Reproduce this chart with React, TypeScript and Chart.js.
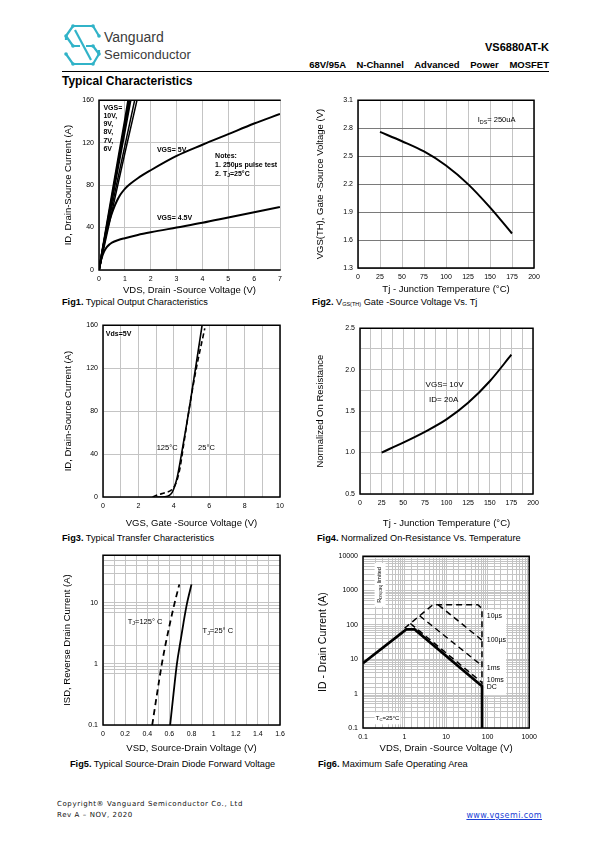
import React, { useEffect, useRef } from "react";
import { Chart, registerables } from "chart.js";
Chart.register(...registerables);

const FONT = '"Liberation Sans", Arial, Helvetica, sans-serif';
const NARROW = '"Liberation Sans Narrow", "Liberation Sans", Arial, sans-serif';
const GRID = "#c4c4c4";

// ---------------- Fig1: output characteristics ----------------
const fig1XTicks = [0, 1, 2, 3, 4, 5, 6, 7];
const fig1YTicks = [0, 40, 80, 120, 160];
const fig1Vds10 = [0, 0.5, 1.0, 1.13];
const fig1Id10 = [0, 71, 141, 160];
const fig1Vds9 = [0, 0.5, 1.0, 1.17];
const fig1Id9 = [0, 68, 137, 160];
const fig1Vds8 = [0, 0.5, 1.0, 1.22];
const fig1Id8 = [0, 66, 131, 160];
const fig1Vds7 = [0, 0.5, 1.0, 1.38];
const fig1Id7 = [0, 60, 117, 160];
const fig1Vds6 = [0, 0.5, 1.0, 1.47];
const fig1Id6 = [0, 55, 110, 160];
const fig1Vds5 = [0, 0.1, 0.2, 0.3, 0.4, 0.5, 0.6, 0.7, 0.8, 0.9, 1.0, 1.2, 1.5, 2, 3, 4, 5, 6, 7];
const fig1Id5 = [0, 13, 26, 37, 46, 53.5, 60, 65.5, 70, 73.5, 76.5, 81, 86.5, 94, 107.5, 118, 128, 138, 147];
const fig1Vds45 = [0, 0.05, 0.1, 0.2, 0.3, 0.4, 0.5, 0.75, 1, 1.5, 2, 3, 4, 5, 6, 7];
const fig1Id45 = [0, 6, 11, 17.5, 21.5, 24, 25.8, 28.3, 30, 33, 35.5, 40, 44.5, 49.5, 54.5, 59.5];

// ---------------- Fig2: VGS(th) vs Tj ----------------
const fig2XTicks = [0, 25, 50, 75, 100, 125, 150, 175, 200];
const fig2YTicks = [1.3, 1.6, 1.9, 2.2, 2.5, 2.8, 3.1];
const fig2Tj = [25, 50, 75, 100, 125, 150, 175];
const fig2Vth = [2.76, 2.66, 2.55, 2.4, 2.2, 1.95, 1.67];

// ---------------- Fig3: transfer characteristics ----------------
const fig3XTicks = [0, 1, 2, 3, 4, 5, 6, 7, 8, 9, 10];
const fig3YTicks = [0, 40, 80, 120, 160];
const fig3Vgs25 = [3.0, 3.5, 3.75, 3.9, 4.05, 4.2, 4.35, 4.55, 4.85, 5.2, 5.6];
const fig3Id25 = [0, 0.3, 1.5, 4, 10, 19, 32, 51, 80, 117, 160];
const fig3Vgs125 = [2.8, 3.1, 3.5, 3.9, 4.15, 4.35, 4.55, 4.85, 5.25, 5.75];
const fig3Id125 = [0, 2, 4, 7, 14, 27, 48, 80, 118, 157];

// ---------------- Fig4: normalized Rds(on) ----------------
const fig4XTicks = [0, 12.5, 25, 37.5, 50, 62.5, 75, 87.5, 100, 112.5, 125, 137.5, 150, 162.5, 175, 187.5, 200];
const fig4YTicks = [0.5, 0.75, 1.0, 1.25, 1.5, 1.75, 2.0, 2.25, 2.5];
const fig4Tj = [25, 50, 75, 100, 125, 150, 175];
const fig4Rn = [1.0, 1.12, 1.25, 1.4, 1.6, 1.86, 2.18];

// ---------------- Fig5: diode forward ----------------
const fig5XTicks = [0, 0.1, 0.2, 0.3, 0.4, 0.5, 0.6, 0.7, 0.8, 0.9, 1.0, 1.1, 1.2, 1.3, 1.4, 1.5, 1.6];
const fig5YTicks = [0.1, 0.7, 0.8, 0.9, 1, 2, 7, 8, 9, 10, 20, 30, 40, 50, 60];
const fig5Vsd25 = [0.607, 0.637, 0.668, 0.698, 0.728, 0.758, 0.8];
const fig5Isd25 = [0.1, 0.32, 1, 2.2, 4.75, 9.5, 20];
const fig5Vsd125 = [0.445, 0.488, 0.532, 0.57, 0.607, 0.645, 0.69];
const fig5Isd125 = [0.1, 0.32, 1, 2.3, 4.75, 9.5, 20];

// ---------------- Fig6: SOA ----------------
const fig6DcV = [0.1, 1.1, 1.75, 73, 73];
const fig6DcI = [7.7, 74, 74, 1.65, 0.1];
const fig6Us10V = [1.0, 4.8, 58, 73, 73];
const fig6Us10I = [80, 385, 385, 300, 1.8];
const fig6Us100V = [6.5, 73];
const fig6Us100I = [385, 36];
const fig6Ms1V = [2.3, 73];
const fig6Ms1I = [185, 6.5];
const fig6Ms10V = [1.38, 73];
const fig6Ms10I = [110, 2.1];

// ---------------- helpers ----------------
const pts = (xs: number[], ys: number[]) => xs.map((x, i) => ({ x, y: ys[i] }));
const line = (xs: number[], ys: number[], o: any = {}) => ({
  data: pts(xs, ys),
  borderColor: "#000",
  borderWidth: 2,
  pointRadius: 0,
  fill: false,
  cubicInterpolationMode: "monotone",
  ...o,
});

const isDecade = (v: number) => {
  const l = Math.log10(v);
  return Math.abs(l - Math.round(l)) < 1e-6;
};

function axis(o: any) {
  return {
    type: o.type || "linear",
    min: o.min,
    max: o.max,
    afterBuildTicks: o.ticks
      ? (s: any) => {
          s.ticks = o.ticks.map((v: number) => ({ value: v }));
        }
      : undefined,
    afterFit: (s: any) => {
      if (o.horizontal) s.height = o.size;
      else s.width = o.size;
    },
    border: { display: false },
    grid: { color: o.gridColor || GRID, lineWidth: 1, drawTicks: false },
    ticks: {
      padding: 5,
      color: "#000",
      font: { family: FONT, size: 7 },
      autoSkip: false,
      maxRotation: 0,
      minRotation: 0,
      callback: (v: any) => (o.label ? o.label(Number(v)) : String(v)),
    },
    title: {
      display: true,
      text: o.title,
      color: "#000",
      font: { family: FONT, size: o.titleSize || 9.5 },
      padding: 0,
    },
  };
}

function framePlugin(sides = "ltrb", color = "#000", lw = 1.5) {
  return {
    id: "frame",
    afterDatasetsDraw(chart: any) {
      const { ctx, chartArea: a } = chart;
      ctx.save();
      ctx.strokeStyle = color;
      ctx.lineWidth = lw;
      ctx.lineCap = "square";
      ctx.beginPath();
      if (sides.includes("l")) { ctx.moveTo(a.left, a.top); ctx.lineTo(a.left, a.bottom); }
      if (sides.includes("r")) { ctx.moveTo(a.right, a.top); ctx.lineTo(a.right, a.bottom); }
      if (sides.includes("t")) { ctx.moveTo(a.left, a.top); ctx.lineTo(a.right, a.top); }
      if (sides.includes("b")) { ctx.moveTo(a.left, a.bottom); ctx.lineTo(a.right, a.bottom); }
      ctx.stroke();
      ctx.restore();
    },
  };
}

function drawRich(ctx: CanvasRenderingContext2D, text: string, x: number, y: number, size: number, weight: string, family: string, align: string) {
  const parts = text.split("~");
  const fN = `${weight} ${size}px ${family}`;
  const fS = `${weight} ${size * 0.72}px ${family}`;
  let total = 0;
  parts.forEach((p, i) => {
    ctx.font = i % 2 ? fS : fN;
    total += ctx.measureText(p).width;
  });
  let cx = align === "center" ? x - total / 2 : align === "right" ? x - total : x;
  ctx.textAlign = "left";
  ctx.textBaseline = "middle";
  parts.forEach((p, i) => {
    ctx.font = i % 2 ? fS : fN;
    ctx.fillText(p, cx, y + (i % 2 ? size * 0.28 : 0));
    cx += ctx.measureText(p).width;
  });
}

function notesPlugin(notes: any[], boxes: any[] = []) {
  return {
    id: "notes",
    beforeDatasetsDraw(chart: any) {
      const { ctx, scales } = chart;
      ctx.save();
      ctx.fillStyle = "#fff";
      boxes.forEach((b) => {
        const x1 = scales.x.getPixelForValue(b.x1);
        const x2 = scales.x.getPixelForValue(b.x2);
        const y1 = scales.y.getPixelForValue(b.y1);
        const y2 = scales.y.getPixelForValue(b.y2);
        ctx.fillRect(Math.min(x1, x2), Math.min(y1, y2), Math.abs(x2 - x1), Math.abs(y2 - y1));
      });
      ctx.restore();
    },
    afterDatasetsDraw(chart: any) {
      const { ctx, scales } = chart;
      ctx.save();
      ctx.fillStyle = "#000";
      notes.forEach((n) => {
        const px = scales.x.getPixelForValue(n.x);
        const py = scales.y.getPixelForValue(n.y);
        const lines = n.t.split("\n");
        const size = n.size || 7;
        const weight = n.bold ? "bold" : "normal";
        const fam = n.family || NARROW;
        const lh = n.lh || size * 1.2;
        if (n.rot) {
          ctx.save();
          ctx.translate(px, py);
          ctx.rotate(-Math.PI / 2);
          drawRich(ctx, n.t, 0, 0, size, weight, fam, "center");
          ctx.restore();
        } else {
          lines.forEach((l: string, i: number) => drawRich(ctx, l, px, py + i * lh, size, weight, fam, n.align || "left"));
        }
      });
      ctx.restore();
    },
  };
}

function makeConfig(g: any, datasets: any[], xs: any, ys: any, plugins: any[]) {
  return {
    type: "line",
    data: { datasets },
    options: {
      animation: false,
      responsive: false,
      devicePixelRatio: 1,
      events: [],
      layout: { padding: { top: 8, right: 12, left: 0, bottom: 0 } },
      plugins: { legend: { display: false }, tooltip: { enabled: false } },
      scales: {
        x: axis({ ...xs, horizontal: true, size: g.xH }),
        y: axis({ ...ys, horizontal: false, size: g.yW }),
      },
    },
    plugins,
  };
}

function ChartBox({ g, build }: { g: any; build: () => any }) {
  const ref = useRef<HTMLCanvasElement>(null);
  useEffect(() => {
    const chart = new Chart(ref.current as HTMLCanvasElement, build() as any);
    return () => chart.destroy();
  }, []);
  return (
    <canvas
      ref={ref}
      width={g.w}
      height={g.h}
      style={{ position: "absolute", left: g.left, top: g.top, width: g.w, height: g.h }}
    />
  );
}

const G1 = { left: 63, top: 91, w: 229, h: 205, yW: 36, xH: 26 };
const G2 = { left: 315, top: 91, w: 231, h: 204, yW: 43, xH: 27 };
const G3 = { left: 63, top: 316, w: 229, h: 213, yW: 40, xH: 32 };
const G4 = { left: 315, top: 319, w: 230, h: 210, yW: 45, xH: 35 };
const G5 = { left: 62, top: 546, w: 230, h: 208, yW: 41, xH: 29 };
const G6 = { left: 317, top: 547, w: 225, h: 207, yW: 46, xH: 26 };

const straight = { cubicInterpolationMode: "default", tension: 0 };

const build1 = () =>
  makeConfig(
    G1,
    [
      line(fig1Vds10, fig1Id10, { cubicInterpolationMode: "default", tension: 0.2 }),
      line(fig1Vds9, fig1Id9, { cubicInterpolationMode: "default", tension: 0.2 }),
      line(fig1Vds8, fig1Id8, { cubicInterpolationMode: "default", tension: 0.2 }),
      line(fig1Vds7, fig1Id7, { borderWidth: 1.5 }),
      line(fig1Vds6, fig1Id6, { borderWidth: 1.5 }),
      line(fig1Vds5, fig1Id5),
      line(fig1Vds45, fig1Id45),
    ],
    { min: 0, max: 7, ticks: fig1XTicks, title: "VDS, Drain -Source Voltage (V)" },
    { min: 0, max: 160, ticks: fig1YTicks, title: "ID, Drain-Source Current (A)" },
    [
      framePlugin("ltb"),
      notesPlugin([
        { t: "VGS=\n10V,\n9V,\n8V,\n7V,\n6V", x: 0.17, y: 153, bold: true, lh: 8.3 },
        { t: "VGS= 5V", x: 2.24, y: 112.7, bold: true },
        { t: "VGS= 4.5V", x: 2.24, y: 49, bold: true },
        { t: "Notes:\n1. 250µs pulse test\n2. T~J~=25°C", x: 4.49, y: 107.6, bold: true, lh: 9 },
      ]),
    ]
  );

const build2 = () =>
  makeConfig(
    G2,
    [line(fig2Tj, fig2Vth)],
    { min: 0, max: 200, ticks: fig2XTicks, title: "Tj - Junction Temperature (°C)" },
    {
      min: 1.3,
      max: 3.1,
      ticks: fig2YTicks,
      label: (v: number) => v.toFixed(1),
      title: "VGS(TH), Gate -Source Voltage (V)",
      gridColor: "#7a7a7a",
    },
    [framePlugin("ltrb"), notesPlugin([{ t: "I~DS~= 250uA", x: 136, y: 2.887, size: 7.5 }])]
  );

const build3 = () =>
  makeConfig(
    G3,
    [
      line(fig3Vgs25, fig3Id25, { borderWidth: 1.6 }),
      line(fig3Vgs125, fig3Id125, { borderWidth: 1.6, borderDash: [5, 3] }),
    ],
    {
      min: 0,
      max: 10,
      ticks: fig3XTicks,
      label: (v: number) => (v % 2 === 0 ? String(v) : ""),
      title: "VGS, Gate -Source Voltage (V)",
    },
    { min: 0, max: 160, ticks: fig3YTicks, title: "ID, Drain-Source Current (A)" },
    [
      framePlugin("ltrb"),
      notesPlugin([
        { t: "Vds=5V", x: 0.16, y: 151.6, bold: true },
        { t: "125°C", x: 3.03, y: 46, size: 7.5 },
        { t: "25°C", x: 5.37, y: 46, size: 7.5 },
      ]),
    ]
  );

const build4 = () =>
  makeConfig(
    G4,
    [line(fig4Tj, fig4Rn)],
    {
      min: 0,
      max: 200,
      ticks: fig4XTicks,
      label: (v: number) => (v % 25 === 0 ? String(v) : ""),
      title: "Tj - Junction Temperature (°C)",
    },
    {
      min: 0.5,
      max: 2.5,
      ticks: fig4YTicks,
      label: (v: number) => (Math.abs(v * 2 - Math.round(v * 2)) < 1e-6 ? v.toFixed(1) : ""),
      title: "Normalized On Resistance",
    },
    [
      framePlugin("ltrb"),
      notesPlugin([
        { t: "VGS= 10V", x: 75.8, y: 1.823, size: 8 },
        { t: "ID= 20A", x: 79.9, y: 1.636, size: 8 },
      ]),
    ]
  );

const build5 = () =>
  makeConfig(
    G5,
    [
      line(fig5Vsd25, fig5Isd25, { borderWidth: 1.8 }),
      line(fig5Vsd125, fig5Isd125, { borderWidth: 1.8, borderDash: [6, 4] }),
    ],
    {
      min: 0,
      max: 1.6,
      ticks: fig5XTicks,
      label: (v: number) => {
        const k = Math.round(v * 10);
        return k % 2 === 0 ? String(k / 10) : "";
      },
      title: "VSD, Source-Drain Voltage (V)",
    },
    {
      type: "logarithmic",
      min: 0.1,
      max: 60,
      ticks: fig5YTicks,
      label: (v: number) => (isDecade(v) ? String(v) : ""),
      title: "ISD, Reverse Drain Current (A)",
    },
    [
      framePlugin("ltrb"),
      notesPlugin([
        { t: "T~J~=125° C", x: 0.224, y: 4.87, size: 7.5 },
        { t: "T~J~=25° C", x: 0.9, y: 3.41, size: 7.5 },
      ]),
    ]
  );

const build6 = () =>
  makeConfig(
    G6,
    [
      line(fig6DcV, fig6DcI, { borderWidth: 2.6, ...straight }),
      line(fig6Us10V, fig6Us10I, { borderWidth: 1.5, borderDash: [6, 4], ...straight }),
      line(fig6Us100V, fig6Us100I, { borderWidth: 1.5, borderDash: [6, 4], ...straight }),
      line(fig6Ms1V, fig6Ms1I, { borderWidth: 1.5, borderDash: [6, 4], ...straight }),
      line(fig6Ms10V, fig6Ms10I, { borderWidth: 1.5, borderDash: [6, 4], ...straight }),
    ],
    {
      type: "logarithmic",
      min: 0.1,
      max: 1000,
      label: (v: number) => (isDecade(v) ? String(v) : ""),
      title: "VDS, Drain -Source Voltage (V)",
    },
    {
      type: "logarithmic",
      min: 0.1,
      max: 10000,
      label: (v: number) => (isDecade(v) ? String(v) : ""),
      title: "ID - Drain Current (A)",
      titleSize: 10.5,
    },
    [
      framePlugin("ltrb"),
      notesPlugin(
        [
          { t: "10µs", x: 95, y: 185 },
          { t: "100µs", x: 95, y: 36 },
          { t: "1ms", x: 95, y: 5.56 },
          { t: "10ms", x: 95, y: 2.5 },
          { t: "DC", x: 95, y: 1.51 },
          { t: "R~DS(ON)~ limited", x: 0.25, y: 1460, rot: true, size: 5.5 },
          { t: "T~C~=25°C", x: 0.39, y: 0.19, size: 6, align: "center" },
        ],
        [
          { x1: 83, x2: 280, y1: 0.9, y2: 275 },
          { x1: 0.19, x2: 0.35, y1: 338, y2: 6300 },
          { x1: 0.19, x2: 0.8, y1: 0.128, y2: 0.285 },
        ]
      ),
    ]
  );

function Txt({ x, y, fs, bold, right, children, style }: any) {
  const s: any = {
    position: "absolute",
    top: y - 0.55 * fs,
    fontSize: fs,
    lineHeight: 1,
    whiteSpace: "nowrap",
    fontWeight: bold ? "bold" : "normal",
    ...style,
  };
  if (right) s.right = 595 - x;
  else s.left = x;
  return <div style={s}>{children}</div>;
}

function Caption({ x, y, num, children }: any) {
  return (
    <Txt x={x} y={y} fs={9.2}>
      <b>{num}</b> {children}
    </Txt>
  );
}

function Logo() {
  const c = "#31b3c8";
  const nodes = [
    [73, 26], [93, 26], [99, 36], [66, 36], [73, 46], [93, 46],
    [73, 64], [93, 64], [99, 54], [66, 54],
  ];
  return (
    <svg width={120} height={80} style={{ position: "absolute", left: 0, top: 0 }}>
      <g stroke={c} strokeWidth={2.2} fill="none" strokeLinejoin="round">
        <polyline points="99,36 93,26 73,26 66,36 73,46 80,46" />
        <polyline points="66,54 73,64 93,64 99,54 93,46 86,46" />
        <line x1={75} y1={30} x2={91} y2={60} />
        <line x1={66} y1={36} x2={66} y2={40} />
        <line x1={99} y1={50} x2={99} y2={54} />
      </g>
      <g fill={c}>
        {nodes.map(([x, y], i) => (
          <circle key={i} cx={x} cy={y} r={1.8} />
        ))}
      </g>
    </svg>
  );
}

const FOOT = { fontFamily: '"DejaVu Sans", sans-serif', letterSpacing: 0.6, color: "#111" };

export default function App() {
  return (
    <div
      style={{
        position: "absolute",
        left: 0,
        top: 0,
        width: 595,
        height: 842,
        background: "#fff",
        overflow: "hidden",
        fontFamily: FONT,
        color: "#000",
      }}
    >
      <Logo />
      <Txt x={104} y={38} fs={14} style={{ color: "#3a3a3a" }}>Vanguard</Txt>
      <Txt x={104} y={55} fs={13} style={{ color: "#3a3a3a" }}>Semiconductor</Txt>
      <Txt x={549} y={48} fs={11} bold right>VS6880AT-K</Txt>
      <Txt x={549} y={65.5} fs={9.5} bold right style={{ wordSpacing: 8 }}>
        68V/95A N-Channel Advanced Power MOSFET
      </Txt>
      <div style={{ position: "absolute", left: 62, top: 71, width: 487, height: 1, background: "#000" }} />
      <Txt x={62} y={82} fs={12} bold>Typical Characteristics</Txt>

      <ChartBox g={G1} build={build1} />
      <ChartBox g={G2} build={build2} />
      <ChartBox g={G3} build={build3} />
      <ChartBox g={G4} build={build4} />
      <ChartBox g={G5} build={build5} />
      <ChartBox g={G6} build={build6} />

      <Caption x={62} y={303} num="Fig1.">Typical Output Characteristics</Caption>
      <Caption x={312} y={303} num="Fig2.">
        V<span style={{ fontSize: 5.5, verticalAlign: -1 }}>GS(TH)</span> Gate -Source Voltage Vs. Tj
      </Caption>
      <Caption x={62} y={539} num="Fig3.">Typical Transfer Characteristics</Caption>
      <Caption x={317} y={539} num="Fig4.">Normalized On-Resistance Vs. Temperature</Caption>
      <Caption x={70} y={765} num="Fig5.">Typical Source-Drain Diode Forward Voltage</Caption>
      <Caption x={318} y={765} num="Fig6.">Maximum Safe Operating Area</Caption>

      <Txt x={57} y={805} fs={7} style={FOOT}>
        Copyright® Vanguard Semiconductor Co., Ltd
      </Txt>
      <Txt x={57} y={816} fs={7} style={FOOT}>
        Rev A – NOV, 2020
      </Txt>
      <Txt x={542} y={816} fs={8} right style={{ ...FOOT, letterSpacing: 0.4, color: "#1a3fd6", textDecoration: "underline" }}>
        www.vgsemi.com
      </Txt>
    </div>
  );
}
